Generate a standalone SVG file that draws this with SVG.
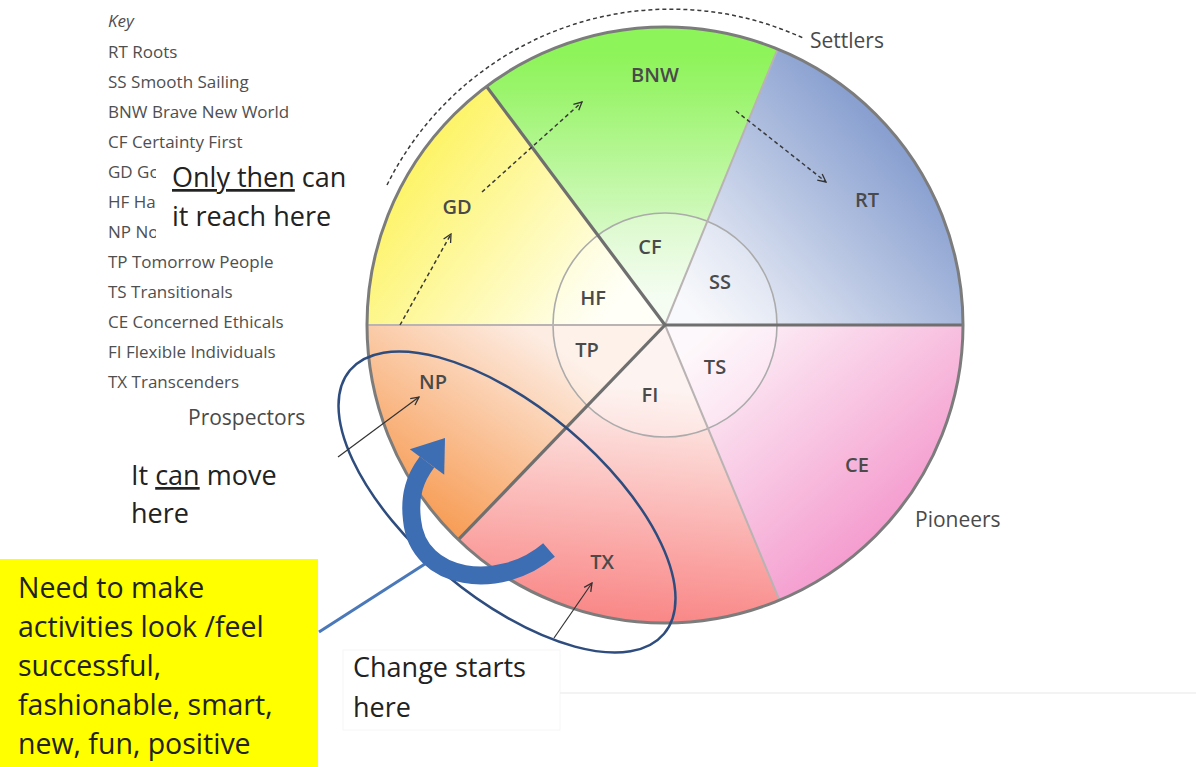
<svg xmlns="http://www.w3.org/2000/svg" width="1196" height="767" viewBox="0 0 1196 767">
<style>
.key{font-family:"Open Sans","Liberation Sans",sans-serif;font-size:17px;fill:#4f4f4f}
.lbl{font-family:"Open Sans","Liberation Sans",sans-serif;font-size:20px;font-weight:600;fill:#4a4a4a;text-anchor:middle}
.grp{font-family:"Open Sans","Liberation Sans",sans-serif;font-size:21px;fill:#4a4a4a}
.big{font-family:"Open Sans","Liberation Sans",sans-serif;font-size:27px;fill:#222}
.yel{font-family:"Open Sans","Liberation Sans",sans-serif;font-size:28.5px;fill:#222}
.dash{fill:none;stroke:#3a3a3a;stroke-width:1.5;stroke-dasharray:4 3}
.thin{fill:none;stroke:#333;stroke-width:1.2}
.spokeD{stroke:#6f6f6f;stroke-width:3.2}
.spokeL{stroke:#b9b3b3;stroke-width:2}
</style>
<defs>
<marker id="arr" viewBox="0 0 10 10" refX="9" refY="5" markerWidth="10" markerHeight="10" markerUnits="userSpaceOnUse" orient="auto">
<path d="M1,1 L9,5 L1,9" fill="none" stroke="#333" stroke-width="1.3" stroke-dasharray="none"/>
</marker>
<linearGradient id="gRT" gradientUnits="userSpaceOnUse" x1="700" y1="320" x2="930" y2="110"><stop offset="0" stop-color="#f6f7fb"/><stop offset="1" stop-color="#7590c8"/></linearGradient>
<linearGradient id="gCE" gradientUnits="userSpaceOnUse" x1="700" y1="340" x2="900" y2="570"><stop offset="0" stop-color="#fdf6fa"/><stop offset="1" stop-color="#f38fc8"/></linearGradient>
<linearGradient id="gTX" gradientUnits="userSpaceOnUse" x1="625" y1="385" x2="605" y2="622"><stop offset="0" stop-color="#fdf0ec"/><stop offset="1" stop-color="#f98585"/></linearGradient>
<linearGradient id="gNP" gradientUnits="userSpaceOnUse" x1="530" y1="330" x2="405" y2="515"><stop offset="0" stop-color="#fdece2"/><stop offset="1" stop-color="#f7994f"/></linearGradient>
<linearGradient id="gGD" gradientUnits="userSpaceOnUse" x1="610" y1="310" x2="390" y2="140"><stop offset="0" stop-color="#fffff4"/><stop offset="1" stop-color="#fdf255"/></linearGradient>
<linearGradient id="gBNW" gradientUnits="userSpaceOnUse" x1="655" y1="300" x2="655" y2="50"><stop offset="0" stop-color="#f2fcef"/><stop offset="0.85" stop-color="#99f46a"/><stop offset="1" stop-color="#8df459"/></linearGradient>
</defs>
<rect width="1196" height="767" fill="#fff"/>

<g id="key">
<text class="key" x="108" y="27" font-style="italic">Key</text>
<text class="key" x="108" y="58">RT Roots</text>
<text class="key" x="108" y="88">SS Smooth Sailing</text>
<text class="key" x="108" y="118">BNW Brave New World</text>
<text class="key" x="108" y="148">CF Certainty First</text>
<text class="key" x="108" y="178">GD Go</text>
<text class="key" x="108" y="208">HF Ha</text>
<text class="key" x="108" y="238">NP No</text>
<text class="key" x="108" y="268">TP Tomorrow People</text>
<text class="key" x="108" y="298">TS Transitionals</text>
<text class="key" x="108" y="328">CE Concerned Ethicals</text>
<text class="key" x="108" y="358">FI Flexible Individuals</text>
<text class="key" x="108" y="388">TX Transcenders</text>
</g>

<g id="note-only-then">
<rect x="156" y="158" width="209" height="90" fill="#fff"/>
<text class="big" x="172" y="187"><tspan text-decoration="underline">Only then</tspan> can</text>
<text class="big" x="172" y="226">it reach here</text>
</g>

<g id="wheel">
<g id="seg-RT"><path d="M665,325 L777.6,49.1 A298,298 0 0 1 963,325 Z" fill="url(#gRT)"/></g>
<g id="seg-CE"><path d="M665,325 L963,325 A298,298 0 0 1 779.5,600.1 Z" fill="url(#gCE)"/></g>
<g id="seg-TX"><path d="M665,325 L779.5,600.1 A298,298 0 0 1 458.4,539.7 Z" fill="url(#gTX)"/></g>
<g id="seg-NP"><path d="M665,325 L458.4,539.7 A298,298 0 0 1 367,325 Z" fill="url(#gNP)"/></g>
<g id="seg-GD"><path d="M665,325 L367,325 A298,298 0 0 1 486.5,86.4 Z" fill="url(#gGD)"/></g>
<g id="seg-BNW"><path d="M665,325 L486.5,86.4 A298,298 0 0 1 777.6,49.1 Z" fill="url(#gBNW)"/></g>
<circle id="inner-ring" cx="665" cy="325" r="112" fill="#fff" fill-opacity="0.25" stroke="#ababab" stroke-width="1.6"/>
<line class="spokeL" x1="665" y1="325" x2="777.6" y2="49.1" stroke="#b5c2a8"/>
<line class="spokeL" x1="665" y1="325" x2="367" y2="325"/>
<line class="spokeL" x1="665" y1="325" x2="779.5" y2="600.1" stroke="#a8969e"/>
<line class="spokeD" x1="665" y1="325" x2="963" y2="325"/>
<line class="spokeD" x1="665" y1="325" x2="486.5" y2="86.4"/>
<line class="spokeD" x1="665" y1="325" x2="458.4" y2="539.7"/>
<circle cx="665" cy="325" r="298" fill="none" stroke="#7c7c7c" stroke-width="3"/>
</g>

<g id="labels">
<g id="n-BNW"><text class="lbl" x="655" y="82">BNW</text></g>
<g id="n-GD"><text class="lbl" x="457" y="214">GD</text></g>
<g id="n-RT"><text class="lbl" x="867" y="207">RT</text></g>
<g id="n-CF"><text class="lbl" x="650" y="254">CF</text></g>
<g id="n-SS"><text class="lbl" x="720" y="289">SS</text></g>
<g id="n-HF"><text class="lbl" x="593" y="305">HF</text></g>
<g id="n-TP"><text class="lbl" x="587" y="357">TP</text></g>
<g id="n-FI"><text class="lbl" x="650" y="402">FI</text></g>
<g id="n-TS"><text class="lbl" x="715" y="374">TS</text></g>
<g id="n-NP"><text class="lbl" x="433" y="389">NP</text></g>
<g id="n-TX"><text class="lbl" x="602" y="569">TX</text></g>
<g id="n-CE"><text class="lbl" x="857" y="472">CE</text></g>
</g>

<g id="group-labels">
<text class="grp" x="810" y="48">Settlers</text>
<text class="grp" x="188" y="425">Prospectors</text>
<text class="grp" x="915" y="527">Pioneers</text>
</g>

<g id="highlight">
<ellipse cx="507" cy="502" rx="205" ry="95" transform="rotate(40 507 502)" fill="none" stroke="#2e4d7e" stroke-width="2.5"/>
</g>

<g id="connectors">
<path class="dash" d="M387,185 A317,317 0 0 1 803,38"/>
<line class="dash" x1="400" y1="325" x2="451" y2="234" marker-end="url(#arr)"/>
<line class="dash" x1="482" y1="192" x2="582" y2="102" marker-end="url(#arr)"/>
<line class="dash" x1="736" y1="111" x2="826" y2="182" marker-end="url(#arr)"/>
<line class="thin" x1="338" y1="457" x2="419" y2="397" marker-end="url(#arr)"/>
<line class="thin" x1="554" y1="638" x2="592" y2="583" marker-end="url(#arr)"/>
<line x1="319" y1="632" x2="428" y2="562" stroke="#4a78b8" stroke-width="3"/>
<g id="big-arrow">
<path d="M549,550 C500,592 418,582 412,520 C409,495 415,478 427,462" fill="none" stroke="#3d6db3" stroke-width="18"/>
<polygon points="409.8,449.2 444.2,474.8 445,438" fill="#3d6db3"/>
</g>
</g>

<g id="note-can-move">
<text class="big" x="131" y="485">It <tspan text-decoration="underline">can</tspan> move</text>
<text class="big" x="131" y="523">here</text>
</g>

<g id="note-change">
<rect x="343" y="650" width="217" height="80" fill="#fff" stroke="#f6f6f6" stroke-width="1"/>
<line x1="560" y1="693" x2="1196" y2="693" stroke="#efefef" stroke-width="1.5"/>
<text class="big" x="353" y="677">Change starts</text>
<text class="big" x="353" y="717">here</text>
</g>

<g id="note-yellow">
<rect x="0" y="559" width="318" height="208" fill="#ffff00"/>
<text class="yel" x="18" y="598">Need to make</text>
<text class="yel" x="18" y="637">activities look /feel</text>
<text class="yel" x="18" y="676">successful,</text>
<text class="yel" x="18" y="715">fashionable, smart,</text>
<text class="yel" x="18" y="754">new, fun, positive</text>
</g>
</svg>
